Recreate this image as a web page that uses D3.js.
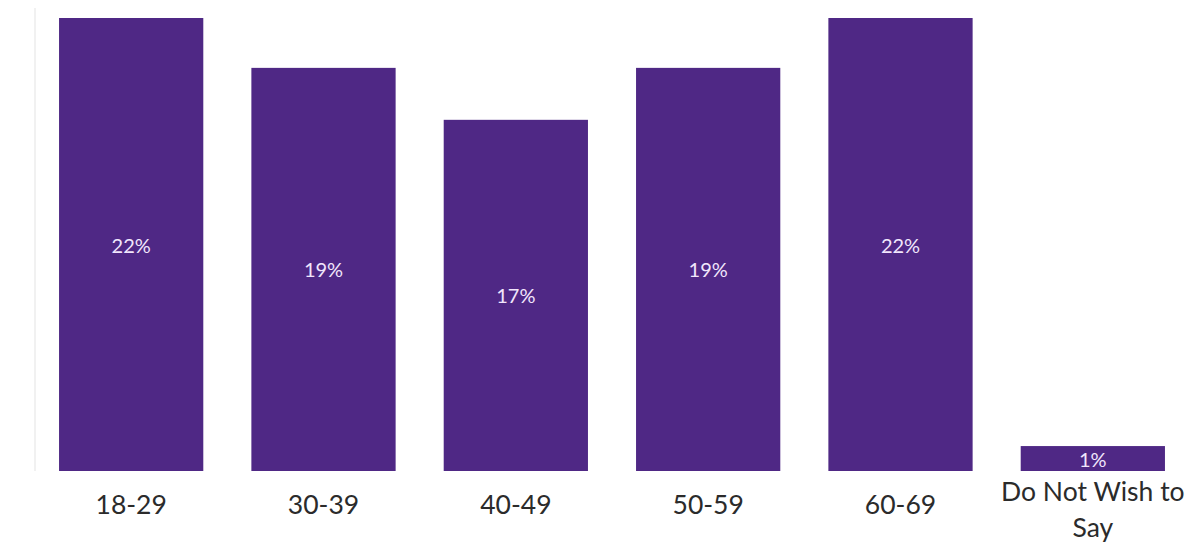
<!DOCTYPE html>
<html>
<head>
<meta charset="utf-8">
<script src="https://cdn.jsdelivr.net/npm/d3@7/dist/d3.min.js"></script>
<style>
  html, body { margin: 0; padding: 0; background: #ffffff; }
  svg { display: block; }
</style>
</head>
<body>
<svg id="chart" width="1204" height="543"></svg>
<script>
// Age group shares of respondents (percent)
const categories = ["18-29", "30-39", "40-49", "50-59", "60-69", "Do Not Wish to Say"];
const shares = [21.8, 19.4, 16.9, 19.4, 21.8, 1.2];

const data = categories.map((c, i) => ({ category: c, value: shares[i] }));

const svg = d3.select("#chart");
const baseY = 471, topY = 18;
const leftX = 35, rightX = 1189;

const x = d3.scaleBand()
  .domain(categories)
  .range([leftX, rightX])
  .paddingInner(0.25)
  .paddingOuter(0.125);

const y = d3.scaleLinear()
  .domain([0, d3.max(shares)])
  .range([baseY, topY]);

const fmt = v => d3.format(".0f")(v) + "%";

// faint left axis rule
svg.append("line")
  .attr("x1", leftX).attr("x2", leftX)
  .attr("y1", 8).attr("y2", baseY)
  .attr("stroke", "#ececec")
  .attr("stroke-width", 1.5);

// bars
svg.append("g")
  .selectAll("rect")
  .data(data)
  .join("rect")
  .attr("x", d => x(d.category))
  .attr("width", x.bandwidth())
  .attr("y", d => y(d.value))
  .attr("height", d => baseY - y(d.value))
  .attr("fill", "#4f2885");

// value labels centred inside bars
svg.append("g")
  .selectAll("text")
  .data(data)
  .join("text")
  .attr("x", d => x(d.category) + x.bandwidth() / 2)
  .attr("y", d => (y(d.value) + baseY) / 2)
  .attr("text-anchor", "middle")
  .attr("dominant-baseline", "central")
  .attr("font-family", "Lato, 'Open Sans', sans-serif")
  .attr("font-size", 20)
  .attr("fill", "#f1e6fc")
  .text(d => fmt(d.value));

// category axis (wrapped labels)
const xAxis = d3.axisBottom(x).tickSize(0).tickPadding(0);
const gx = svg.append("g")
  .attr("transform", `translate(0,${baseY})`)
  .call(xAxis);
gx.select(".domain").remove();
gx.selectAll(".tick text").each(function (d) {
  const t = d3.select(this);
  t.text(null)
    .attr("y", null).attr("dy", null)
    .attr("font-family", "Lato, 'Open Sans', sans-serif")
    .attr("font-size", 26.5)
    .attr("fill", "#2b2b2b");
  const lines = d === "Do Not Wish to Say" ? ["Do Not Wish to", "Say"] : [d];
  const first = lines.length > 1 ? 30 : 43;
  lines.forEach((ln, i) => {
    t.append("tspan")
      .attr("x", 0)
      .attr("y", first + i * 36)
      .text(ln);
  });
});
</script>
</body>
</html>
